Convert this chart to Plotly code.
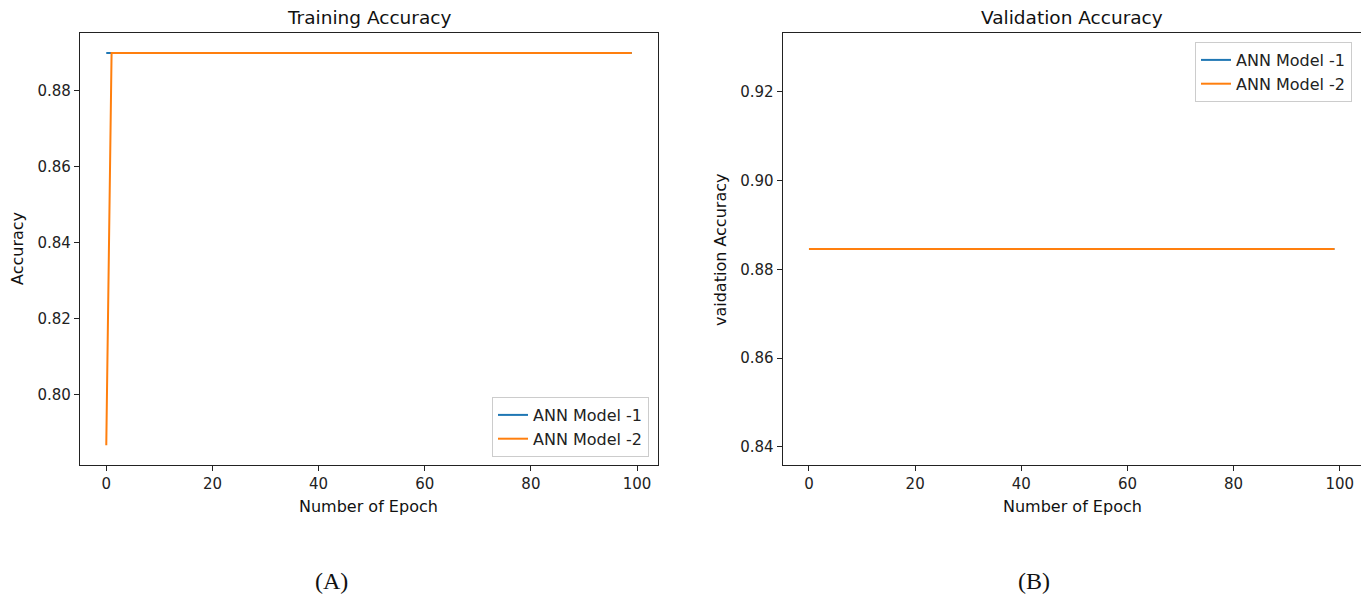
import plotly.graph_objects as go

W, H = 1369, 596
OFF = 8  # default page body margin
FW, FH = W - OFF, H - OFF

epochs = list(range(100))

train_acc_m1 = [
    0.8899, 0.8899, 0.8899, 0.8899, 0.8899, 0.8899, 0.8899, 0.8899, 0.8899, 0.8899,
    0.8899, 0.8899, 0.8899, 0.8899, 0.8899, 0.8899, 0.8899, 0.8899, 0.8899, 0.8899,
    0.8899, 0.8899, 0.8899, 0.8899, 0.8899, 0.8899, 0.8899, 0.8899, 0.8899, 0.8899,
    0.8899, 0.8899, 0.8899, 0.8899, 0.8899, 0.8899, 0.8899, 0.8899, 0.8899, 0.8899,
    0.8899, 0.8899, 0.8899, 0.8899, 0.8899, 0.8899, 0.8899, 0.8899, 0.8899, 0.8899,
    0.8899, 0.8899, 0.8899, 0.8899, 0.8899, 0.8899, 0.8899, 0.8899, 0.8899, 0.8899,
    0.8899, 0.8899, 0.8899, 0.8899, 0.8899, 0.8899, 0.8899, 0.8899, 0.8899, 0.8899,
    0.8899, 0.8899, 0.8899, 0.8899, 0.8899, 0.8899, 0.8899, 0.8899, 0.8899, 0.8899,
    0.8899, 0.8899, 0.8899, 0.8899, 0.8899, 0.8899, 0.8899, 0.8899, 0.8899, 0.8899,
    0.8899, 0.8899, 0.8899, 0.8899, 0.8899, 0.8899, 0.8899, 0.8899, 0.8899, 0.8899,
]
train_acc_m2 = [
    0.7866, 0.8899, 0.8899, 0.8899, 0.8899, 0.8899, 0.8899, 0.8899, 0.8899, 0.8899,
    0.8899, 0.8899, 0.8899, 0.8899, 0.8899, 0.8899, 0.8899, 0.8899, 0.8899, 0.8899,
    0.8899, 0.8899, 0.8899, 0.8899, 0.8899, 0.8899, 0.8899, 0.8899, 0.8899, 0.8899,
    0.8899, 0.8899, 0.8899, 0.8899, 0.8899, 0.8899, 0.8899, 0.8899, 0.8899, 0.8899,
    0.8899, 0.8899, 0.8899, 0.8899, 0.8899, 0.8899, 0.8899, 0.8899, 0.8899, 0.8899,
    0.8899, 0.8899, 0.8899, 0.8899, 0.8899, 0.8899, 0.8899, 0.8899, 0.8899, 0.8899,
    0.8899, 0.8899, 0.8899, 0.8899, 0.8899, 0.8899, 0.8899, 0.8899, 0.8899, 0.8899,
    0.8899, 0.8899, 0.8899, 0.8899, 0.8899, 0.8899, 0.8899, 0.8899, 0.8899, 0.8899,
    0.8899, 0.8899, 0.8899, 0.8899, 0.8899, 0.8899, 0.8899, 0.8899, 0.8899, 0.8899,
    0.8899, 0.8899, 0.8899, 0.8899, 0.8899, 0.8899, 0.8899, 0.8899, 0.8899, 0.8899,
]
val_acc_m1 = [
    0.8846, 0.8846, 0.8846, 0.8846, 0.8846, 0.8846, 0.8846, 0.8846, 0.8846, 0.8846,
    0.8846, 0.8846, 0.8846, 0.8846, 0.8846, 0.8846, 0.8846, 0.8846, 0.8846, 0.8846,
    0.8846, 0.8846, 0.8846, 0.8846, 0.8846, 0.8846, 0.8846, 0.8846, 0.8846, 0.8846,
    0.8846, 0.8846, 0.8846, 0.8846, 0.8846, 0.8846, 0.8846, 0.8846, 0.8846, 0.8846,
    0.8846, 0.8846, 0.8846, 0.8846, 0.8846, 0.8846, 0.8846, 0.8846, 0.8846, 0.8846,
    0.8846, 0.8846, 0.8846, 0.8846, 0.8846, 0.8846, 0.8846, 0.8846, 0.8846, 0.8846,
    0.8846, 0.8846, 0.8846, 0.8846, 0.8846, 0.8846, 0.8846, 0.8846, 0.8846, 0.8846,
    0.8846, 0.8846, 0.8846, 0.8846, 0.8846, 0.8846, 0.8846, 0.8846, 0.8846, 0.8846,
    0.8846, 0.8846, 0.8846, 0.8846, 0.8846, 0.8846, 0.8846, 0.8846, 0.8846, 0.8846,
    0.8846, 0.8846, 0.8846, 0.8846, 0.8846, 0.8846, 0.8846, 0.8846, 0.8846, 0.8846,
]
val_acc_m2 = [
    0.8846, 0.8846, 0.8846, 0.8846, 0.8846, 0.8846, 0.8846, 0.8846, 0.8846, 0.8846,
    0.8846, 0.8846, 0.8846, 0.8846, 0.8846, 0.8846, 0.8846, 0.8846, 0.8846, 0.8846,
    0.8846, 0.8846, 0.8846, 0.8846, 0.8846, 0.8846, 0.8846, 0.8846, 0.8846, 0.8846,
    0.8846, 0.8846, 0.8846, 0.8846, 0.8846, 0.8846, 0.8846, 0.8846, 0.8846, 0.8846,
    0.8846, 0.8846, 0.8846, 0.8846, 0.8846, 0.8846, 0.8846, 0.8846, 0.8846, 0.8846,
    0.8846, 0.8846, 0.8846, 0.8846, 0.8846, 0.8846, 0.8846, 0.8846, 0.8846, 0.8846,
    0.8846, 0.8846, 0.8846, 0.8846, 0.8846, 0.8846, 0.8846, 0.8846, 0.8846, 0.8846,
    0.8846, 0.8846, 0.8846, 0.8846, 0.8846, 0.8846, 0.8846, 0.8846, 0.8846, 0.8846,
    0.8846, 0.8846, 0.8846, 0.8846, 0.8846, 0.8846, 0.8846, 0.8846, 0.8846, 0.8846,
    0.8846, 0.8846, 0.8846, 0.8846, 0.8846, 0.8846, 0.8846, 0.8846, 0.8846, 0.8846,
]

series_names = ["ANN Model -1", "ANN Model -2"]
colors = ["#1f77b4", "#ff7f0e"]

x_ticks = [0, 20, 40, 60, 80, 100]
train_y_ticks = [0.80, 0.82, 0.84, 0.86, 0.88]
val_y_ticks = [0.84, 0.86, 0.88, 0.90, 0.92]

FONT = "DejaVu Sans"
TICK = 15
LABEL = 16
TITLE = 18.5

fig = go.Figure()
for name, ys, c in zip(series_names, [train_acc_m1, train_acc_m2], colors):
    fig.add_trace(go.Scatter(x=epochs, y=ys, mode="lines", name=name,
                             line=dict(color=c, width=2), xaxis="x", yaxis="y",
                             legend="legend"))
for name, ys, c in zip(series_names, [val_acc_m1, val_acc_m2], colors):
    fig.add_trace(go.Scatter(x=epochs, y=ys, mode="lines", name=name,
                             line=dict(color=c, width=2), xaxis="x2", yaxis="y2",
                             legend="legend2"))


def px_x(p):
    return (p - OFF) / FW


def px_y(p):
    return 1 - (p - OFF) / FH


axis_common = dict(showline=True, linecolor="#222", linewidth=1.2, mirror=True,
                   ticks="outside", ticklen=5, tickwidth=1, tickcolor="#222",
                   showgrid=False, zeroline=False,
                   tickfont=dict(family=FONT, size=TICK, color="#222"))

y_dom = [px_y(465), px_y(33)]

legend_common = dict(bgcolor="rgba(255,255,255,0.9)", bordercolor="#cccccc",
                     borderwidth=1, font=dict(family=FONT, size=LABEL, color="#222"))

fig.update_layout(
    width=FW, height=FH,
    margin=dict(l=0, r=0, t=0, b=0),
    paper_bgcolor="white", plot_bgcolor="white",
    font=dict(family=FONT, size=TICK, color="#222"),
    xaxis=dict(domain=[px_x(80), px_x(658)], range=[-4.95, 103.95],
               tickvals=x_ticks, anchor="y", **axis_common),
    yaxis=dict(domain=y_dom, range=[0.78143, 0.89517], tickvals=train_y_ticks,
               tickformat=".2f", anchor="x", **axis_common),
    xaxis2=dict(domain=[px_x(782.7), px_x(1360.7)], range=[-4.95, 103.95],
                tickvals=x_ticks, anchor="y2", **axis_common),
    yaxis2=dict(domain=y_dom, range=[0.8359, 0.9333], tickvals=val_y_ticks,
                tickformat=".2f", anchor="x2", **axis_common),
    legend=dict(x=px_x(649), y=px_y(457), xanchor="right", yanchor="bottom",
                **legend_common),
    legend2=dict(x=px_x(1352), y=px_y(42), xanchor="right", yanchor="top",
                 **legend_common),
    showlegend=True,
)


def ann(text, x, y, size, family=FONT, angle=0, yanchor="middle"):
    fig.add_annotation(text=text, x=px_x(x), y=px_y(y), xref="paper", yref="paper",
                       showarrow=False, xanchor="center", yanchor=yanchor,
                       textangle=angle, font=dict(family=family, size=size, color="#111"))


ann("Training Accuracy", 369, 30, TITLE, yanchor="bottom")
ann("Validation Accuracy", 1072, 30, TITLE, yanchor="bottom")
ann("Number of Epoch", 369, 506, LABEL)
ann("Number of Epoch", 1072, 506, LABEL)
ann("Accuracy", 17, 249, LABEL, angle=-90)
ann("vaidation Accuracy", 720, 250, LABEL, angle=-90)
ann("(A)", 331, 581, 24, family="Liberation Serif")
ann("(B)", 1034, 581, 24, family="Liberation Serif")

fig.write_html("out.html")
